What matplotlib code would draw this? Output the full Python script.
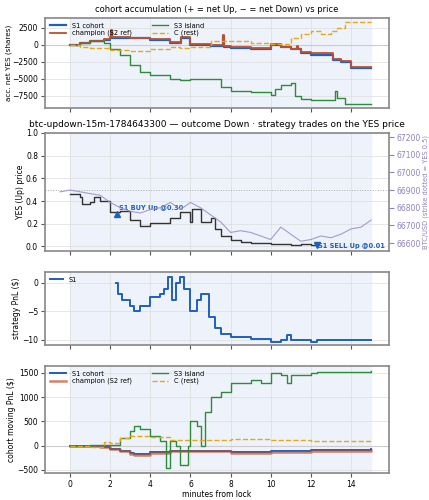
import matplotlib
matplotlib.use('Agg')
import matplotlib.pyplot as plt

# cohort accumulation (shares)
acc_t = [0, 0.5, 1, 1.7, 2, 2.05, 2.1, 3, 4, 5, 5.5, 5.55, 6, 7, 7.6, 7.65, 8, 9, 10, 10.5, 11, 11.3, 11.35, 11.5, 12, 13, 13.1, 13.5, 14, 15]
s1_acc = [0, 300, 500, 700, 1000, 2000, 1000, 900, 700, 300, 200, 1000, 0, -200, 1200, -300, -500, -600, 0, -400, -700, -400, -700, -1200, -1500, -1500, -2300, -2600, -3500, -3500]
champ_acc = [0, 300, 550, 750, 1050, 2100, 1100, 1000, 750, 350, 250, 1100, 100, -100, 1400, -200, -400, -500, 100, -300, -600, -200, -600, -1100, -1300, -1300, -2100, -2400, -3300, -3300]
s3_t = [0, 0.5, 1, 1.7, 2, 2.5, 3, 3.5, 4, 5, 5.5, 6, 6.8, 7, 7.5, 8, 9, 10, 10.2, 10.5, 11, 11.2, 11.5, 12, 13, 13.2, 13.3, 13.7, 15]
s3_acc = [0, 300, 500, 300, -700, -1500, -3000, -4000, -4500, -5000, -5200, -5100, -5000, -5100, -6200, -6800, -7000, -7400, -6500, -6000, -5700, -7500, -8000, -8200, -8100, -6800, -7900, -8700, -8700]
c_t = [0, 0.5, 1, 2, 3, 4, 5, 5.5, 6, 7, 8, 9, 10, 11, 11.5, 12, 12.5, 13, 13.3, 13.7, 15]
c_acc = [0, -300, -500, -800, -1000, -700, -400, -500, -300, 500, 500, 300, 100, 1000, 1500, 2000, 1500, 2000, 2500, 3300, 3300]

# YES price and BTC
price_t = [0, 0.5, 0.6, 1, 1.2, 1.5, 2, 2.5, 3, 3.5, 4, 5, 5.5, 6, 6.1, 6.5, 7, 7.2, 7.5, 8, 8.5, 9, 10, 11, 11.5, 12, 12.3]
price = [0.46, 0.44, 0.37, 0.39, 0.44, 0.40, 0.30, 0.31, 0.23, 0.18, 0.21, 0.25, 0.30, 0.22, 0.33, 0.22, 0.25, 0.15, 0.09, 0.06, 0.04, 0.03, 0.025, 0.01, 0.02, 0.01, 0.005]
btc_t = [-0.5, 0, 0.5, 1, 1.5, 2, 2.5, 3, 3.5, 4, 4.5, 5, 5.5, 6, 6.5, 7, 7.5, 8, 8.5, 9, 9.5, 10, 10.5, 11, 11.5, 12, 12.5, 13, 13.5, 14, 14.5, 15]
btc = [66890, 66900, 66890, 66880, 66870, 66830, 66800, 66780, 66770, 66790, 66800, 66830, 66790, 66830, 66800, 66760, 66720, 66660, 66670, 66660, 66640, 66620, 66690, 66650, 66610, 66620, 66640, 66630, 66650, 66680, 66690, 66730]
buy_t, buy_p = 2.35, 0.29
sell_t, sell_p = 12.3, 0.01

# strategy PnL
pnl_t = [2.3, 2.4, 2.6, 3, 3.2, 3.5, 4, 4.5, 4.7, 4.9, 5.1, 5.3, 5.5, 5.7, 6, 6.3, 6.5, 6.7, 6.9, 7.2, 7.5, 8, 8.5, 9, 10, 10.5, 10.8, 11, 12, 12.3, 15]
pnl = [0, -2, -3, -4, -5, -4, -2.5, -2, -1, 1, -3, 0, 1, -1, -5, -3, -2, -2, -6, -8, -9, -9.5, -9.5, -9.8, -10.3, -10, -9.2, -10, -10.3, -10.1, -10.1]

# cohort moving PnL
mp_t = [0, 1, 1.5, 2, 2.5, 3, 3.2, 4, 5, 7, 8, 10, 12, 15]
s1_mp = [0, 0, -20, -60, -100, -150, -180, -130, -100, -100, -130, -110, -90, -70]
champ_mp = [0, 0, -30, -70, -110, -170, -200, -140, -110, -110, -140, -125, -105, -95]
s3_mt = [0, 1, 2, 2.5, 3, 3.2, 3.5, 4, 4.5, 4.8, 5, 5.3, 5.5, 5.7, 5.9, 6, 6.3, 6.5, 6.7, 7, 7.5, 8, 9, 9.5, 10, 10.5, 10.8, 11, 12, 12.3, 15]
s3_mp = [0, 10, 20, 150, 300, 400, 350, 200, 100, -450, 100, 0, -400, -400, 0, 500, 400, 0, 700, 1000, 1100, 1300, 1350, 1300, 1500, 1450, 1300, 1450, 1500, 1530, 1550]
c_mt = [0, 1, 1.7, 2, 2.5, 3, 4, 5, 6, 7, 8, 9, 10, 12, 15]
c_mp = [0, -20, 80, 60, 150, 200, 170, 120, 110, 110, 140, 130, 120, 100, 90]

BLUE = '#1f5fbf'
RED = '#c0502a'
GREEN = '#2e8b3a'
GOLD = '#e6a817'

plt.rcParams['font.size'] = 5.5

fig = plt.figure(figsize=(4.29, 5), dpi=100)
left, width = 0.105, 0.802
ax1 = fig.add_axes([left, 0.784, width, 0.18])
ax2 = fig.add_axes([left, 0.498, width, 0.236])
ax3 = fig.add_axes([left, 0.31, width, 0.146])
ax4 = fig.add_axes([left, 0.054, width, 0.214])

for ax in (ax1, ax2, ax3, ax4):
    ax.axvspan(0, 15, color='#eef2fa', zorder=0)
    ax.grid(True, color='#dddddd', linewidth=0.5)
    ax.set_xlim(-1.25, 15.9)
    ax.set_xticks(range(0, 15, 2))
    for s in ax.spines.values():
        s.set_color('#888888')
        s.set_linewidth(1.2)
    ax.tick_params(length=3, color='#555555', labelsize=5.5, pad=2)
for ax in (ax1, ax2, ax3):
    ax.set_xticklabels([])

# panel 1
ax1.axhline(0, color='#cccccc', linewidth=0.8)
ax1.step(acc_t, s1_acc, where='post', color=BLUE, lw=1.6, label='S1 cohort')
ax1.step(acc_t, champ_acc, where='post', color=RED, lw=1.3, label='champion (S2 ref)')
ax1.step(s3_t, s3_acc, where='post', color=GREEN, lw=1.0, label='S3 island')
ax1.step(c_t, c_acc, where='post', color=GOLD, lw=1.0, ls='--', label='C (rest)')
ax1.set_ylim(-9300, 3900)
ax1.set_yticks([-7500, -5000, -2500, 0, 2500])
ax1.set_ylabel('acc. net YES (shares)', labelpad=0.5, fontsize=5.2)
ax1.set_title('cohort accumulation (+ = net Up, \u2212 = net Down) vs price', fontsize=6, pad=4)
ax1.legend(loc='upper left', ncol=2, fontsize=4.8, frameon=False, handlelength=2.5,
           columnspacing=3, borderaxespad=0.3, labelspacing=0.2)

# panel 2
ax2.axhline(0.5, color='#aaaaaa', linewidth=0.7, ls=':')
ax2.step(price_t, price, where='post', color='#333333', lw=1.0)
ax2.plot(buy_t, buy_p, marker='^', color=BLUE, ms=5, ls='none')
ax2.plot(sell_t, sell_p, marker='v', color=BLUE, ms=5, ls='none')
ax2.text(buy_t + 0.1, buy_p + 0.03, 'S1 BUY Up @0.30', color=BLUE, fontsize=4.8, fontweight='bold')
ax2.text(sell_t + 0.05, sell_p - 0.02, 'S1 SELL Up @0.01', color=BLUE, fontsize=4.8, fontweight='bold')
ax2.set_ylim(-0.04, 1.0)
ax2.set_ylabel('YES (Up) price', labelpad=1)
ax2.set_title('btc-updown-15m-1784643300 \u2014 outcome Down \u00b7 strategy trades on the YES price', fontsize=6.5, pad=4)
axb = ax2.twinx()
axb.plot(btc_t, btc, color='#a090c8', lw=0.8, alpha=0.9)
axb.set_ylim(66555, 67223)
axb.set_yticks(range(66600, 67201, 100))
axb.tick_params(axis='y', colors='#9080c0', labelsize=5.5, pad=2)
axb.set_ylabel('BTC/USD (strike dotted = YES 0.5)', color='#9080c0', fontsize=4.8, labelpad=1)
for s in axb.spines.values():
    s.set_visible(False)

# panel 3
ax3.step(pnl_t, pnl, where='post', color=BLUE, lw=1.4, label='S1')
ax3.set_ylim(-10.9, 1.9)
ax3.set_yticks([-10, -5, 0])
ax3.set_ylabel('strategy PnL ($)', labelpad=1)
ax3.legend(loc='upper left', fontsize=4.8, frameon=False, borderaxespad=0.3)

# panel 4
ax4.axhline(0, color='#cccccc', linewidth=0.8)
ax4.step(mp_t, s1_mp, where='post', color=BLUE, lw=1.4, label='S1 cohort')
ax4.step(mp_t, champ_mp, where='post', color=RED, lw=1.8, alpha=0.7, label='champion (S2 ref)')
ax4.step(s3_mt, s3_mp, where='post', color=GREEN, lw=1.0, label='S3 island')
ax4.step(c_mt, c_mp, where='post', color=GOLD, lw=1.0, ls='--', label='C (rest)')
ax4.set_ylim(-562, 1644)
ax4.set_yticks([-500, 0, 500, 1000, 1500])
ax4.set_ylabel('cohort moving PnL ($)', labelpad=1)
ax4.set_xlabel('minutes from lock', labelpad=1)
ax4.legend(loc='upper left', ncol=2, fontsize=4.8, frameon=False, handlelength=2.5,
           columnspacing=3, borderaxespad=0.3, labelspacing=0.2)

fig.savefig('out.png', dpi=100)
